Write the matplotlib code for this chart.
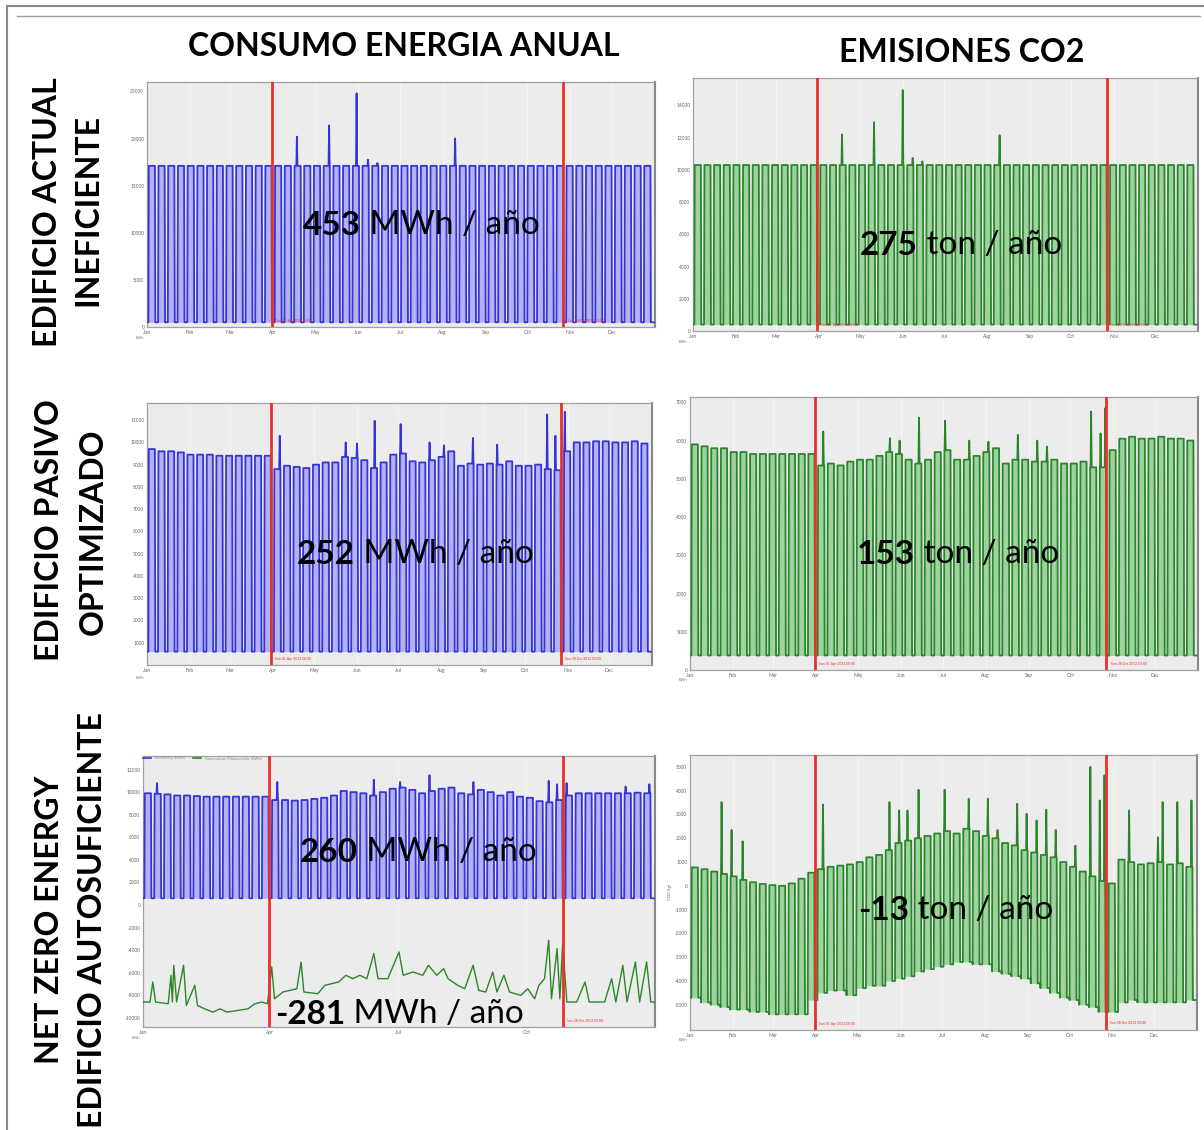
import matplotlib.pyplot as plt
from matplotlib.lines import Line2D

plt.rcParams['font.family'] = ['Lato', 'DejaVu Sans']

# ---- data ----
months = ['Jan', 'Feb', 'Mar', 'Apr', 'May', 'Jun', 'Jul', 'Aug', 'Sep', 'Oct', 'Nov', 'Dec']
month_days = [0, 31, 60, 91, 121, 152, 182, 213, 244, 274, 305, 335]
red_days = [90, 300]

# consumo edificio actual (kWh), weekday level per week, weekend level, peaks
p1_top = [17100, 17100, 17100, 17100, 17100, 17100, 17100, 17100, 17100, 17100, 17100, 17100, 17100,
          17100, 17100, 17100, 17100, 17100, 17100, 17100, 17100, 17100, 17100, 17100, 17100, 17100,
          17100, 17100, 17100, 17100, 17100, 17100, 17100, 17100, 17100, 17100, 17100, 17100, 17100,
          17100, 17100, 17100, 17100, 17100, 17100, 17100, 17100, 17100, 17100, 17100, 17100, 17100]
p1_low = 500
p1_peaks = [(108, 20200), (132, 21400), (151, 24800), (160, 17750), (166, 17400), (222, 20000)]

# emisiones edificio actual
p2_top = [10300, 10300, 10300, 10300, 10300, 10300, 10300, 10300, 10300, 10300, 10300, 10300, 10300,
          10300, 10300, 10300, 10300, 10300, 10300, 10300, 10300, 10300, 10300, 10300, 10300, 10300,
          10300, 10300, 10300, 10300, 10300, 10300, 10300, 10300, 10300, 10300, 10300, 10300, 10300,
          10300, 10300, 10300, 10300, 10300, 10300, 10300, 10300, 10300, 10300, 10300, 10300, 10300]
p2_low = 400
p2_peaks = [(108, 12200), (132, 12950), (152, 14950), (160, 10740), (167, 10530), (224, 12150)]

# consumo edificio pasivo
p3_top = [9700, 9600, 9600, 9550, 9450, 9450, 9450, 9400, 9400, 9400, 9400, 9400, 9400,
          8800, 8950, 8900, 8850, 9000, 9100, 9100, 9350, 9300, 9200, 8850, 9100, 9450,
          9500, 9150, 9100, 9200, 9350, 9600, 8950, 9050, 9000, 9050, 9000, 9150, 8950,
          8950, 9000, 8800, 8750, 9600, 10000, 10000, 10050, 10050, 10000, 10000, 10050, 9950]
p3_low = 600
p3_peaks = [(97, 10300), (144, 10000), (154, 9950), (165, 10970), (183, 10820), (204, 10000),
            (216, 9870), (238, 10200), (253, 9900), (290, 11260), (296, 10300), (302, 11370)]

# emisiones edificio pasivo
p4_top = [5900, 5850, 5800, 5800, 5700, 5700, 5650, 5650, 5650, 5650, 5650, 5650, 5650,
          5350, 5400, 5350, 5450, 5500, 5500, 5600, 5700, 5650, 5500, 5400, 5500, 5700,
          5750, 5500, 5500, 5600, 5700, 5800, 5400, 5500, 5500, 5450, 5450, 5500, 5400,
          5400, 5450, 5300, 5300, 5750, 6050, 6100, 6050, 6050, 6100, 6050, 6050, 6000]
p4_low = 380
p4_peaks = [(96, 6240), (144, 6060), (151, 6000), (165, 6600), (183, 6520), (203, 6000),
            (215, 5970), (237, 6150), (251, 6000), (258, 5840), (289, 6760), (295, 6190), (301, 6850)]

# net zero: consumo electrico
p5_top = [9900, 9850, 9800, 9700, 9700, 9650, 9600, 9600, 9600, 9600, 9600, 9600, 9600,
          9300, 9300, 9250, 9300, 9400, 9500, 9700, 10100, 10000, 9900, 9700, 10000, 10300,
          10400, 10200, 9900, 10100, 10300, 10400, 9900, 9800, 10200, 10000, 9700, 10000, 9600,
          9500, 9200, 9100, 9300, 9700, 9900, 9900, 9900, 9900, 9900, 9900, 9950, 9900]
p5_low = 600
p5_peaks = [(10, 10800), (96, 10900), (165, 11100), (183, 10900), (204, 11500), (238, 10900),
            (290, 11000), (296, 10700), (302, 10800), (345, 10500), (362, 10700)]

# net zero: generacion fotovoltaica
pv_days = [0, 5, 7, 9, 18, 20, 21, 22, 24, 29, 31, 37, 39, 44, 50, 55, 60, 68, 75, 80, 85, 89,
           92, 94, 100, 110, 113, 115, 125, 130, 140, 145, 150, 155, 160, 165, 168, 175, 183, 186,
           193, 200, 204, 210, 215, 218, 225, 230, 236, 240, 245, 250, 253, 258, 262, 270, 275,
           280, 283, 287, 290, 292, 296, 298, 300, 303, 310, 316, 319, 330, 335, 338, 343, 346,
           352, 355, 360, 363, 366]
pv_kwh = [-8590, -8590, -6810, -8590, -8740, -6220, -8590, -5330, -8590, -5330, -8890, -7110,
          -8890, -9190, -9480, -9190, -9480, -9330, -9190, -8740, -8590, -8740,
          -5480, -8300, -7700, -7410, -5040, -7700, -7850, -7110, -6810, -6220, -6520, -6220,
          -6520, -4300, -6520, -6520, -4150, -6220, -5930, -6220, -5330, -6220, -5630, -6520,
          -7110, -7410, -5330, -7560, -7700, -5930, -7700, -6220, -7700, -8000, -7410,
          -8300, -7110, -6520, -3110, -8300, -3850, -8300, -3410, -8590, -8590, -6810, -8590,
          -8590, -6520, -8590, -5330, -8590, -5040, -8590, -5040, -8590, -8590]

# net zero: emisiones CO2 (kg)
p6_top = [775, 700, 600, 500, 400, 250, 150, 80, 30, 0, 100, 300, 550,
          700, 800, 850, 900, 1000, 1200, 1300, 1500, 1800, 1900, 2000, 2100, 2200,
          2300, 2200, 2400, 2300, 2100, 2000, 1800, 1700, 1500, 1400, 1300, 1200, 1000,
          800, 600, 400, 200, 100, 1100, 1000, 900, 950, 1000, 900, 950, 800]
p6_low = [-4700, -4900, -5000, -5100, -5200, -5200, -5300, -5300, -5400, -5400, -5400, -5400, -4800,
          -4500, -4400, -4400, -4600, -4300, -4200, -4200, -4000, -3900, -3800, -3600, -3500, -3400,
          -3300, -3200, -3200, -3300, -3300, -3600, -3700, -3800, -3900, -4100, -4300, -4500, -4700,
          -4800, -5000, -5100, -5300, -5300, -4900, -4800, -4900, -4900, -4900, -4900, -4900, -4800]
p6_peaks = [(22, 3520), (30, 2350), (38, 1870), (96, 3420), (144, 3520), (151, 3170), (157, 3170),
            (165, 4040), (183, 4040), (203, 3660), (215, 3660), (222, 2350), (237, 3450), (243, 3030),
            (251, 2750), (258, 3200), (264, 2350), (279, 1690), (289, 5000), (295, 3590), (301, 4650),
            (317, 3170), (337, 2040), (343, 3520), (351, 3520), (362, 3590)]

BLUE, BLUE_F = '#3434d8', '#b2b2f2'
GREEN, GREEN_F = '#2b862b', '#9ed29e'
RED = '#e8302c'

W, H = 1204, 1130
fig = plt.figure(figsize=(W / 100, H / 100), dpi=100)


def px_axes(l, t, r, b):
    return fig.add_axes([l / W, 1 - b / H, (r - l) / W, (b - t) / H])


def weekly(tops, lows, peaks):
    # weekdays at the week's level, weekend drop, peaks on top
    if not isinstance(lows, list):
        lows = [lows] * len(tops)
    xs, ys, bs = [0], [lows[0]], [lows[0]]
    for w, (top, low) in enumerate(zip(tops, lows)):
        m = 1 + 7 * w
        pts = [(m, low), (m + 0.3, top)]
        for d, v in peaks:
            if m <= d < m + 7:
                s = min(max(d, m + 0.8), m + 4.2)
                pts += [(s - 0.4, top), (s, v), (s + 0.4, top)]
        pts += [(m + 4.7, top), (m + 5.0, low), (m + 7, low)]
        pts.sort()
        for px, py in pts:
            xs.append(px)
            ys.append(py)
            bs.append(low)
    return xs, ys, bs


def style(ax, ylim, yticks, xt=None, xl=None, red_text=(True, True)):
    ax.set_facecolor('#ececec')
    ax.set_xlim(0, 366)
    ax.set_ylim(*ylim)
    ax.set_yticks(yticks)
    ax.set_yticklabels([str(v) for v in yticks], fontsize=3.5, color='#666666')
    ax.set_xticks(xt if xt else month_days)
    ax.set_xticklabels(xl if xl else months, fontsize=3.5, color='#666666')
    ax.tick_params(length=0, pad=2)
    ax.grid(axis='x', color='#f7f7f7', lw=0.6)
    ax.set_axisbelow(True)
    for s in ax.spines.values():
        s.set_color('#a0a0a0')
        s.set_linewidth(0.9)
    ax.spines['right'].set_color('#888888')
    ax.spines['right'].set_linewidth(1.5)
    labels = ['Sun 01 Apr 2012 00:00', 'Sun 28 Oct 2012 03:00']
    for d, lab, show in zip(red_days, labels, red_text):
        ax.axvline(d, color=RED, lw=2.0, zorder=5)
        if show:
            ax.text(d + 3, ylim[0] + (ylim[1] - ylim[0]) * 0.02, lab, fontsize=2.5, color=RED, zorder=6)


def series(ax, tops, lows, peaks, c, fc):
    x, y, b = weekly(tops, lows, peaks)
    ax.fill_between(x, b, y, color=fc, lw=0, zorder=2)
    ax.plot(x, y, color=c, lw=1.3, zorder=3)


def big_label(ax, x, y, num, unit):
    t = fig.text(x / W, 1 - y / H, num, fontsize=24, weight='bold', va='baseline', ha='left', zorder=10)
    ax.annotate(' ' + unit, xy=(1, 0), xycoords=t, va='bottom', ha='left', fontsize=24,
                annotation_clip=False, zorder=10)


ax1 = px_axes(147, 82, 655, 327)
series(ax1, p1_top, p1_low, p1_peaks, BLUE, BLUE_F)
style(ax1, (0, 26000), [0, 5000, 10000, 15000, 20000, 25000])
big_label(ax1, 303, 235, '453', 'MWh / año')

ax2 = px_axes(693, 78, 1198, 331)
series(ax2, p2_top, p2_low, p2_peaks, GREEN, GREEN_F)
style(ax2, (0, 15700), [0, 2000, 4000, 6000, 8000, 10000, 12000, 14000])
big_label(ax2, 860, 255, '275', 'ton / año')

ax3 = px_axes(147, 403, 652, 665)
series(ax3, p3_top, p3_low, p3_peaks, BLUE, BLUE_F)
style(ax3, (0, 11770), [1000, 2000, 3000, 4000, 5000, 6000, 7000, 8000, 9000, 10000, 11000])
big_label(ax3, 297, 564, '252', 'MWh / año')

ax4 = px_axes(690, 397, 1198, 670)
series(ax4, p4_top, p4_low, p4_peaks, GREEN, GREEN_F)
style(ax4, (0, 7140), [0, 1000, 2000, 3000, 4000, 5000, 6000, 7000])
big_label(ax4, 857, 564, '153', 'ton / año')

ax5 = px_axes(143, 756, 655, 1027)
series(ax5, p5_top, p5_low, p5_peaks, BLUE, BLUE_F)
ax5.plot(pv_days, pv_kwh, color=GREEN, lw=1.0, zorder=3)
style(ax5, (-10800, 13200), [-10000, -8000, -6000, -4000, -2000, 0, 2000, 4000, 6000, 8000, 10000, 12000],
      [0, 91, 182, 274], ['Jan', 'Apr', 'Jul', 'Oct'], red_text=(False, True))
ax5.legend([Line2D([], [], color=BLUE, lw=1.2), Line2D([], [], color=GREEN, lw=1.2)],
           ['Electricity (kWh)', 'Generation: Photovoltaic (kWh)'], loc='lower left',
           bbox_to_anchor=(0, 0.985), ncol=2, fontsize=3, frameon=False, handlelength=2,
           borderpad=0, borderaxespad=0, labelcolor='#888888')
big_label(ax5, 300, 862, '260', 'MWh / año')
big_label(ax5, 275, 1024, '-281', 'MWh / año')

ax6 = px_axes(690, 755, 1197, 1030)
series(ax6, p6_top, p6_low, p6_peaks, GREEN, GREEN_F)
style(ax6, (-6060, 5500), [-5000, -4000, -3000, -2000, -1000, 0, 1000, 2000, 3000, 4000, 5000])
ax6.set_ylabel('CO2 (kg)', fontsize=3, color='#666666', labelpad=2)
big_label(ax6, 858, 920, '-13', 'ton / año')

# small unit tags under each chart
for x, y in [(140, 338), (683, 342), (140, 678), (683, 680), (136, 1038), (683, 1040)]:
    fig.text(x / W, 1 - y / H, 'kWh', fontsize=3, color='#777777', ha='center', va='center')

# column headers
fig.text(404 / W, 1 - 47 / H, 'CONSUMO ENERGIA ANUAL', fontsize=23, weight='bold', ha='center', va='center')
fig.text(962 / W, 1 - 53 / H, 'EMISIONES CO2', fontsize=23, weight='bold', ha='center', va='center')

# row headers
rows = [(48, 212, 'EDIFICIO ACTUAL'), (88, 210, 'INEFICIENTE'),
        (50, 530, 'EDIFICIO PASIVO'), (93, 532, 'OPTIMIZADO'),
        (50, 920, 'NET ZERO ENERGY'), (93, 920, 'EDIFICIO AUTOSUFICIENTE')]
for x, y, s in rows:
    fig.text(x / W, 1 - y / H, s, fontsize=23, weight='bold', rotation=90, ha='center', va='center')

# outer frame of the slide
fig.add_artist(Line2D([7 / W, 7 / W], [0, 1 - 6 / H], color='#8a8a8a', lw=1.5))
fig.add_artist(Line2D([7 / W, 1], [1 - 6 / H, 1 - 6 / H], color='#8a8a8a', lw=1.5))
fig.add_artist(Line2D([17 / W, 1200 / W], [1 - 16 / H, 1 - 16 / H], color='#a0a0a0', lw=1))

fig.savefig('out.png', dpi=100)
